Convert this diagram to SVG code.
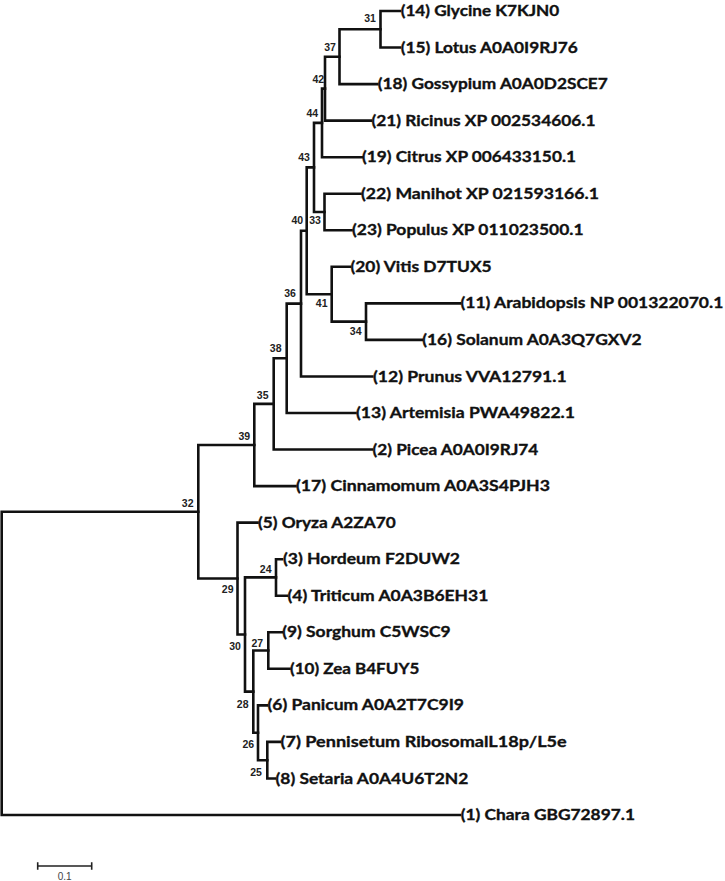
<svg xmlns="http://www.w3.org/2000/svg" width="725" height="881" viewBox="0 0 725 881">
<style>
.br{fill:none;stroke:#111;stroke-width:2.6;stroke-linecap:square;stroke-linejoin:miter}
.tx{font-family:Lato,"Open Sans","Liberation Sans",sans-serif;font-weight:bold;font-size:16px;fill:#111;stroke:#111;stroke-width:0.35}
.bs{font-family:"Liberation Sans",Arial,sans-serif;font-weight:bold;font-size:10.5px;fill:#222;text-anchor:middle}
.sc{fill:none;stroke:#222;stroke-width:1.6}
.sl{font-family:"Liberation Sans",Arial,sans-serif;font-size:10px;fill:#444;text-anchor:middle}
</style>
<rect width="725" height="881" fill="#fff"/>
<g id="connectors">
<path class="br" d="M400 11 H380.5 V47.5 H400"/>
<path class="br" d="M380.5 29.25 H339.5 V84.1 H377.3"/>
<path class="br" d="M339.5 56.7 H325 V120.6 H371"/>
<path class="br" d="M325 88.6 H322 V157.2 H362"/>
<path class="br" d="M360.5 193.7 H324.5 V230.3 H351.5"/>
<path class="br" d="M322 122.9 H314 V212 H324.5"/>
<path class="br" d="M460 303.4 H366 V339.9 H421.7"/>
<path class="br" d="M350 266.8 H331.7 V321.6 H366"/>
<path class="br" d="M314 167.4 H306.7 V294.2 H331.7"/>
<path class="br" d="M306.7 230.8 H301 V376.5 H372.3"/>
<path class="br" d="M301 303.6 H286.7 V413 H355.5"/>
<path class="br" d="M286.7 358.3 H273.7 V449.5 H372"/>
<path class="br" d="M273.7 403.9 H254.3 V486.1 H295.5"/>
<path class="br" d="M282 559.2 H276 V595.7 H287"/>
<path class="br" d="M281.7 632.3 H268.3 V668.8 H289.5"/>
<path class="br" d="M280 741.9 H267.3 V778.5 H275"/>
<path class="br" d="M267 705.4 H258 V760.2 H267.3"/>
<path class="br" d="M268.3 650.5 H253.3 V732.8 H258"/>
<path class="br" d="M276 577.4 H245 V691.6 H253.3"/>
<path class="br" d="M257.5 522.6 H237.5 V634.5 H245"/>
<path class="br" d="M254.3 445 H198.3 V578.5 H237.5"/>
<path class="br" d="M198.3 511.8 H1.7 V815 H460"/>
</g>
<g id="leaves">
<g id="leaf-14"><text class="tx" x="400.7" y="16" textLength="158.6" lengthAdjust="spacingAndGlyphs">(14) Glycine K7KJN0</text></g>
<g id="leaf-15"><text class="tx" x="400.7" y="52.5" textLength="177" lengthAdjust="spacingAndGlyphs">(15) Lotus A0A0I9RJ76</text></g>
<g id="leaf-18"><text class="tx" x="377.8" y="89.1" textLength="230" lengthAdjust="spacingAndGlyphs">(18) Gossypium A0A0D2SCE7</text></g>
<g id="leaf-21"><text class="tx" x="371.5" y="125.6" textLength="224" lengthAdjust="spacingAndGlyphs">(21) Ricinus XP 002534606.1</text></g>
<g id="leaf-19"><text class="tx" x="362" y="162.2" textLength="214" lengthAdjust="spacingAndGlyphs">(19) Citrus XP 006433150.1</text></g>
<g id="leaf-22"><text class="tx" x="361" y="198.7" textLength="238" lengthAdjust="spacingAndGlyphs">(22) Manihot XP 021593166.1</text></g>
<g id="leaf-23"><text class="tx" x="352" y="235.3" textLength="231.5" lengthAdjust="spacingAndGlyphs">(23) Populus XP 011023500.1</text></g>
<g id="leaf-20"><text class="tx" x="350.5" y="271.8" textLength="141.2" lengthAdjust="spacingAndGlyphs">(20) Vitis D7TUX5</text></g>
<g id="leaf-11"><text class="tx" x="460.5" y="308.4" textLength="262.8" lengthAdjust="spacingAndGlyphs">(11) Arabidopsis NP 001322070.1</text></g>
<g id="leaf-16"><text class="tx" x="422.2" y="344.9" textLength="219.5" lengthAdjust="spacingAndGlyphs">(16) Solanum A0A3Q7GXV2</text></g>
<g id="leaf-12"><text class="tx" x="373" y="381.5" textLength="193.7" lengthAdjust="spacingAndGlyphs">(12) Prunus VVA12791.1</text></g>
<g id="leaf-13"><text class="tx" x="356" y="418" textLength="219" lengthAdjust="spacingAndGlyphs">(13) Artemisia PWA49822.1</text></g>
<g id="leaf-2"><text class="tx" x="372.5" y="454.5" textLength="165.8" lengthAdjust="spacingAndGlyphs">(2) Picea A0A0I9RJ74</text></g>
<g id="leaf-17"><text class="tx" x="296" y="491.1" textLength="254" lengthAdjust="spacingAndGlyphs">(17) Cinnamomum A0A3S4PJH3</text></g>
<g id="leaf-5"><text class="tx" x="258" y="527.6" textLength="137.7" lengthAdjust="spacingAndGlyphs">(5) Oryza A2ZA70</text></g>
<g id="leaf-3"><text class="tx" x="283" y="564.2" textLength="177" lengthAdjust="spacingAndGlyphs">(3) Hordeum F2DUW2</text></g>
<g id="leaf-4"><text class="tx" x="287.5" y="600.7" textLength="200.8" lengthAdjust="spacingAndGlyphs">(4) Triticum A0A3B6EH31</text></g>
<g id="leaf-9"><text class="tx" x="282.2" y="637.3" textLength="168.5" lengthAdjust="spacingAndGlyphs">(9) Sorghum C5WSC9</text></g>
<g id="leaf-10"><text class="tx" x="290" y="673.8" textLength="129.3" lengthAdjust="spacingAndGlyphs">(10) Zea B4FUY5</text></g>
<g id="leaf-6"><text class="tx" x="267.5" y="710.4" textLength="196.5" lengthAdjust="spacingAndGlyphs">(6) Panicum A0A2T7C9I9</text></g>
<g id="leaf-7"><text class="tx" x="280.5" y="746.9" textLength="286.2" lengthAdjust="spacingAndGlyphs">(7) Pennisetum RibosomalL18p/L5e</text></g>
<g id="leaf-8"><text class="tx" x="275.5" y="783.5" textLength="192.8" lengthAdjust="spacingAndGlyphs">(8) Setaria A0A4U6T2N2</text></g>
<g id="leaf-1"><text class="tx" x="460.7" y="820" textLength="174.3" lengthAdjust="spacingAndGlyphs">(1) Chara GBG72897.1</text></g>
</g>
<g id="bootstrap">
<g id="node-31"><text class="bs" x="370" y="21.7">31</text></g>
<g id="node-37"><text class="bs" x="330" y="51">37</text></g>
<g id="node-42"><text class="bs" x="318.3" y="83.3">42</text></g>
<g id="node-44"><text class="bs" x="312.3" y="116.7">44</text></g>
<g id="node-43"><text class="bs" x="304" y="161">43</text></g>
<g id="node-40"><text class="bs" x="297.3" y="224.3">40</text></g>
<g id="node-33"><text class="bs" x="315" y="224.3">33</text></g>
<g id="node-36"><text class="bs" x="290" y="297.3">36</text></g>
<g id="node-41"><text class="bs" x="321.7" y="307.3">41</text></g>
<g id="node-34"><text class="bs" x="355.7" y="335">34</text></g>
<g id="node-38"><text class="bs" x="275.7" y="352.3">38</text></g>
<g id="node-35"><text class="bs" x="262.7" y="399">35</text></g>
<g id="node-39"><text class="bs" x="244.3" y="440">39</text></g>
<g id="node-32"><text class="bs" x="187.7" y="507.3">32</text></g>
<g id="node-29"><text class="bs" x="227.7" y="593.3">29</text></g>
<g id="node-24"><text class="bs" x="265.7" y="573.3">24</text></g>
<g id="node-30"><text class="bs" x="235" y="650">30</text></g>
<g id="node-27"><text class="bs" x="257.3" y="646.7">27</text></g>
<g id="node-28"><text class="bs" x="242.7" y="708">28</text></g>
<g id="node-26"><text class="bs" x="248.3" y="748">26</text></g>
<g id="node-25"><text class="bs" x="256" y="775.7">25</text></g>
</g>
<g id="scale-bar">
<path class="sc" d="M37.7 866 H91.7 M37.7 862.3 V869.7 M91.7 862.3 V869.7"/>
<text class="sl" x="64.7" y="880">0.1</text>
</g>
</svg>
